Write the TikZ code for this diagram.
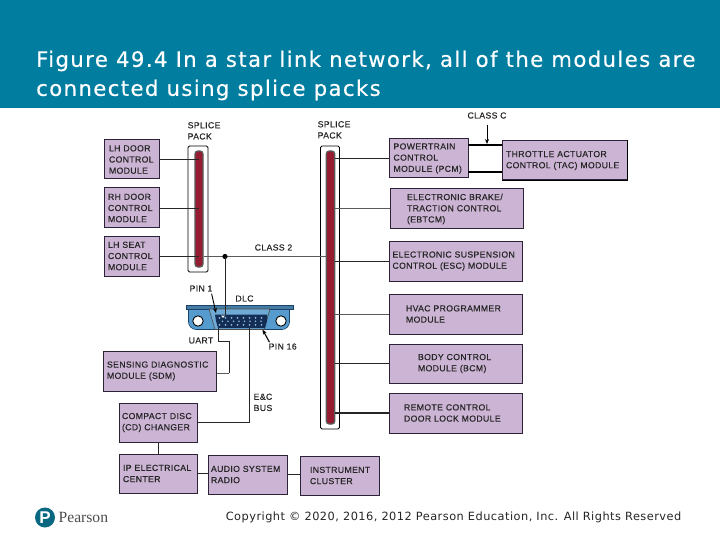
\documentclass[tikz,border=0pt]{standalone}
\usepackage{fontspec}
\setmainfont{Liberation Sans}
\newfontfamily\titlefont[LetterSpace=6.6,FakeBold=0.35]{DejaVu Sans}
\newfontfamily\copyfont[LetterSpace=4.2]{DejaVu Sans}
\newfontfamily\pearsonfont{Liberation Serif}
\newfontfamily\lblfont[LetterSpace=4,FakeBold=0.3]{Liberation Sans}
\newfontfamily\lblboldfont[LetterSpace=4,FakeBold=0.9]{Liberation Sans}
\usetikzlibrary{arrows.meta}
\definecolor{headteal}{RGB}{1,125,160}
\definecolor{logoteal}{RGB}{10,105,130}
\definecolor{modfill}{RGB}{204,180,212}
\definecolor{modline}{RGB}{45,35,55}
\definecolor{splred}{RGB}{150,28,50}
\definecolor{wiregray}{RGB}{90,90,90}
\definecolor{dlcblue}{RGB}{85,155,205}
\definecolor{dlcdark}{RGB}{25,65,105}
\definecolor{dlcnavy}{RGB}{20,45,85}
\tikzset{
  lbl/.style={font=\lblfont\fontsize{8.7}{11.2}\selectfont,text=black!85,inner sep=0pt,align=left},
  wire/.style={line width=0.9pt,draw=black!85},
  graywire/.style={line width=1pt,draw=wiregray},
  heavy/.style={line width=2.6pt,draw=black},
  tip/.style={line width=0.9pt,draw=black,-{Stealth[length=5pt,width=4pt]}},
}
% #1 options, #2 name, #3 x1, #4 y1, #5 x2, #6 y2, #7 text offset, #8 text
\newcommand{\modbox}[8][]{%
  \node[draw=modline,fill=modfill,line width=1pt,rectangle,
        font=\lblfont\fontsize{8.7}{11.2}\selectfont,text=black!85,align=left,
        inner ysep=0pt,inner xsep=#7pt,
        text width={(#5-#3-2*#7)*1pt},
        minimum height={(#6-#4)*1pt},#1]
     (#2) at ({(#3+#5)/2},{(#4+#6)/2}) {#8};}
\begin{document}
\begin{tikzpicture}[x=1pt,y=-1pt]
\useasboundingbox (0,0) rectangle (720,540);
\fill[white] (0,0) rectangle (720,540);
\fill[headteal] (0,0) rectangle (720,108.5);
\node[anchor=west,inner sep=0pt,text=white,align=left,
      font=\titlefont\fontsize{21.2}{29}\selectfont] (title) at (36,75.5)
  {Figure 49.4 In a star link network, all of the modules are\\connected using splice packs};

% splice packs
\node[draw=black,fill=white,line width=0.8pt,rounded corners=1.5pt,minimum width=20pt,minimum height=126pt,inner sep=0pt] (outerA) at (198,209) {};
\node[draw=black!65,fill=splred,line width=1.3pt,rounded corners=3pt,minimum width=8pt,minimum height=116pt,inner sep=0pt] (spA) at (199,209) {};
\node[draw=black,fill=white,line width=0.8pt,rounded corners=1.5pt,minimum width=19pt,minimum height=283pt,inner sep=0pt] (outerB) at (330,287.5) {};
\node[draw=black!65,fill=splred,line width=1.3pt,rounded corners=3pt,minimum width=8.5pt,minimum height=273pt,inner sep=0pt] (spB) at (330.5,287.5) {};

\node[lbl] (lblA) [anchor=north west] at (187.5,122) {SPLICE\\PACK};
\node[lbl] (lblB) [anchor=north west] at (317.5,121) {SPLICE\\PACK};

% left modules
\modbox{lhdoor}{104}{140}{159}{179}{5}{LH DOOR\\CONTROL\\MODULE}
\modbox{rhdoor}{104}{188}{159}{228}{4}{RH DOOR\\CONTROL\\MODULE}
\modbox{lhseat}{104}{236}{159}{276}{4}{LH SEAT\\CONTROL\\MODULE}
% right modules
\modbox{pcm}{389}{139}{468}{178}{4.5}{POWERTRAIN\\CONTROL\\MODULE (PCM)}
\modbox{tac}{502}{141}{627}{180}{4}{THROTTLE ACTUATOR\\CONTROL (TAC) MODULE}
\draw[line width=1.8pt,draw=black] (tac.north east) -- (tac.south east) -- (tac.south west);
\modbox{ebtcm}{390}{189}{523}{229}{17}{ELECTRONIC BRAKE/\\TRACTION CONTROL\\(EBTCM)}
\modbox{esc}{389}{241}{522}{281}{3.5}{ELECTRONIC SUSPENSION\\CONTROL (ESC) MODULE}
\modbox{hvac}{389}{294}{522}{334}{17}{HVAC PROGRAMMER\\MODULE}
\modbox{bcm}{389}{344}{522}{383}{29}{BODY CONTROL\\MODULE (BCM)}
\modbox{remote}{389}{393}{522}{433}{15}{REMOTE CONTROL\\DOOR LOCK MODULE}
% bottom modules
\modbox{sdm}{103}{351}{216}{391}{4}{SENSING DIAGNOSTIC\\MODULE (SDM)}
\modbox{cd}{119}{403}{197}{442}{3}{COMPACT DISC\\(CD) CHANGER}
\modbox{ip}{119}{454}{197}{493}{4}{{\lblboldfont IP ELECTRICAL}\\{\lblboldfont CENTER}}
\modbox{audio}{208}{455}{287}{494}{3}{AUDIO SYSTEM\\RADIO}
\modbox{cluster}{300}{456}{379}{495}{10}{INSTRUMENT\\CLUSTER}

% wires to splice packs
\draw[wire] (lhdoor.east) -- (lhdoor.east -| spA.center);
\draw[wire] (rhdoor.east) -- (rhdoor.east -| spA.center);
\coordinate (j) at (225,256.5);
\draw[wire] (lhseat.east |- j) -- (spA.center |- j);
\draw[graywire] (spA.east |- j) -- (j) -- (spB.west |- j);
\fill[black] (j) circle (2.6pt);
\draw[wire] (spB.east |- pcm.west) -- (pcm.west);
\draw[graywire] (spB.east |- ebtcm.west) -- (ebtcm.west);
\draw[wire] (spB.east |- esc.west) -- (esc.west);
\draw[graywire] (spB.east |- hvac.west) -- (hvac.west);
\draw[wire] (spB.east |- bcm.west) -- (bcm.west);
\draw[wire,line width=1.3pt] (spB.east |- remote.west) -- (remote.west);

% class C
\coordinate (cA) at (468,145);
\coordinate (cB) at (468,172);
\draw[heavy] (cA) -- (cA -| tac.west);
\draw[heavy] (cB) -- (cB -| tac.west);
\coordinate (cArrow) at (487,144);
\node[lbl] (classc) at (487,115.5) {CLASS C};
\draw[tip] (classc.south) ++(0,6) -- (cArrow);

\node[lbl] (class2) at (273.5,247.5) {CLASS 2};

% DLC
\fill[dlcblue,draw=dlcdark,line width=0.6pt] (188.5,309) -- (289.5,309) -- (289.5,322) .. controls (289.5,326) and (286,329.5) .. (282,329.5) -- (196,329.5) .. controls (192,329.5) and (188.5,326) .. (188.5,322) -- cycle;
\node[draw=dlcdark,fill=dlcblue!80!black,rectangle,inner sep=0pt,minimum width=107pt,minimum height=4.5pt] (dlc) at (239.5,307) {};
\fill[white,draw=black,line width=0.9pt] (198,321) circle (5.2pt);
\fill[white,draw=black,line width=0.9pt] (281,321) circle (5.2pt);
\fill[dlcblue!85!white,draw=black!70,line width=0.6pt] (209,309) -- (270,309) -- (264,329.5) -- (215,329.5) -- cycle;
\fill[dlcnavy] (215,314.5) -- (267,314.5) -- (267,321) -- (265,328) -- (218,328) -- (216,321) -- cycle;
\foreach \i in {0,...,7} {
  \fill[dlcblue!70!white] ({219.5+\i*6},317.8) circle (1pt);
  \fill[dlcblue!70!white] ({219.5+\i*6},324.8) circle (1pt);
  \fill[dlcblue!70!white] ({222.5+\i*5.5},321.3) circle (0.9pt);
}
\fill[white] (221,315.5) -- (225,315.5) -- (223,318) -- cycle;
\coordinate (pinone) at (225,314.5);
\draw[wire] (j) -- (pinone);

\node[lbl] (pin1) at (201,288.5) {PIN 1};
\coordinate (pinA) at (216,313);
\draw[tip] (pin1.south east) ++(-1,2) -- (pinA);
\node[lbl] (dlclbl) at (244.5,298.5) {DLC};
\node[lbl] (pin16) [anchor=west] at (268.5,346.5) {PIN 16};
\coordinate (pinB) at (262.5,329.5);
\draw[tip,line width=1.1pt] (pin16.north west) ++(1,-1) -- (pinB);
\node[lbl] (uart) [anchor=west] at (188.5,340.5) {UART};

\coordinate (uartA) at (218,328);
\coordinate (uartB) at (229,341);
\coordinate (uartC) at (229,373);
\draw[wire] (uartA) |- (uartB) -- (uartC);
\draw[graywire] (uartC) -- (uartC -| sdm.east);
\coordinate (ecA) at (249,328);
\draw[wire] (ecA) |- (cd.east);
\node[lbl] (ec) [anchor=north west] at (253.5,393.5) {E\&C\\BUS};

\draw[wire] (cd.south) -- (cd.south |- ip.north);
\draw[wire] (ip.east) -- (audio.west |- ip.east);
\draw[wire] (audio.east) -- (cluster.west |- audio.east);

% footer
\node[circle,fill=logoteal,minimum size=20pt,inner sep=0pt,text=white,font=\fontsize{17}{17}\selectfont\bfseries] (logo) at (45,517.5) {P};
\node[anchor=west,inner sep=0pt,text=black!70,font=\pearsonfont\fontsize{15.6}{16}\selectfont] (pearson) at (58.5,517.5) {Pearson};
\node[anchor=east,inner sep=0pt,text=black!85,font=\copyfont\fontsize{11.35}{13}\selectfont] (copy) at (681.5,517.5) {Copyright © 2020, 2016, 2012 Pearson Education, Inc. All Rights Reserved};
\end{tikzpicture}
\end{document}
